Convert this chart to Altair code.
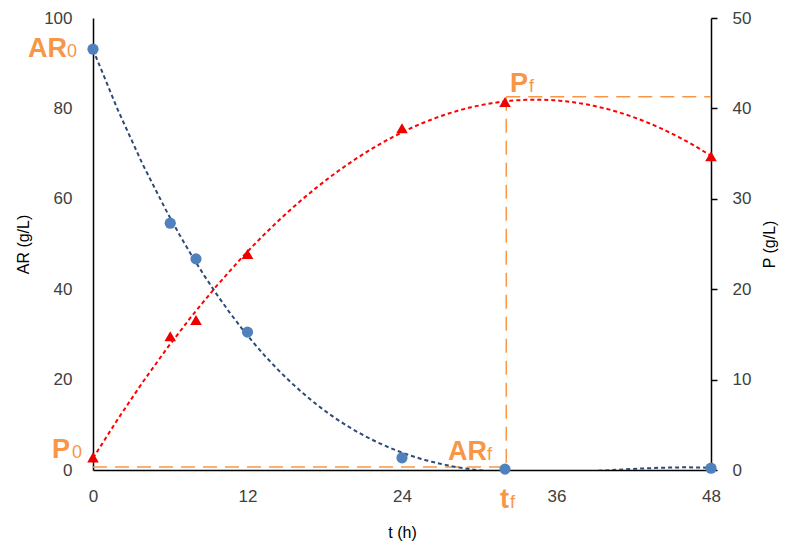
import altair as alt
import pandas as pd

# ---- data ----
t_h = [0, 6, 8, 12, 24, 32, 48]
ar_gl = [93.1, 54.6, 46.7, 30.5, 2.7, 0.2, 0.4]
p_gl = [1.4, 14.8, 16.6, 23.9, 37.8, 40.7, 34.7]

x_ticks = [0, 12, 24, 36, 48]
ar_ticks = [0, 20, 40, 60, 80, 100]
p_ticks = [0, 10, 20, 30, 40, 50]

tf_value = 32.1
ar_f_level = 0.66
p_f_level = 41.3

df = pd.DataFrame({"t": t_h, "AR": ar_gl, "P": p_gl})

W, H = 618, 452
ORANGE = "#F79646"
FONT = "Liberation Sans"
LBL = "#404040"

x_enc = alt.X(
    "t:Q",
    scale=alt.Scale(domain=[0, 48], nice=False, zero=False),
    axis=alt.Axis(values=x_ticks, title="t (h)", ticks=False, grid=False,
                  labelPadding=18, titlePadding=20, labelFlush=False,
                  domainColor="#000000", domainWidth=1.5),
)

ar_scale = alt.Scale(domain=[0, 100], nice=False, zero=True)
p_scale = alt.Scale(domain=[0, 50], nice=False, zero=True)

ar_axis = alt.Axis(values=ar_ticks, title="AR (g/L)", orient="left", ticks=False,
                   grid=False, labelPadding=21, titlePadding=12, labelFlush=False,
                   domainColor="#000000", domainWidth=1.5)
p_axis = alt.Axis(values=p_ticks, title="P (g/L)", orient="right", ticks=True,
                  tickSize=6, tickColor="#000000", tickWidth=1.5, grid=False,
                  labelPadding=15, titlePadding=27, titleAngle=270, labelFlush=False,
                  domainColor="#000000", domainWidth=1.5)

base = alt.Chart(df)

# ---- AR (left axis) ----
ar_trend = base.transform_regression(
    "t", "AR", method="poly", order=3, extent=[0, 48]
).mark_line(color="#2E4A74", strokeDash=[4, 3], strokeWidth=2, clip=True).encode(
    x=x_enc, y=alt.Y("AR:Q", scale=ar_scale, axis=ar_axis)
)
ar_pts = base.mark_point(shape="circle", filled=True, size=125, color="#4F81BD",
                         opacity=1).encode(
    x=x_enc, y=alt.Y("AR:Q", scale=ar_scale, axis=ar_axis)
)
ar_rule = alt.Chart(pd.DataFrame({"t": [0], "t2": [tf_value], "AR": [ar_f_level]})).mark_rule(
    color=ORANGE, strokeDash=[14, 8], strokeWidth=1.5
).encode(x=x_enc, x2="t2:Q", y=alt.Y("AR:Q", scale=ar_scale, axis=ar_axis))

left = alt.layer(ar_rule, ar_trend, ar_pts)

# ---- P (right axis) ----
p_trend = base.transform_regression(
    "t", "P", method="poly", order=2, extent=[0, 48]
).mark_line(color="#FF0000", strokeDash=[4, 3], strokeWidth=2, clip=True).encode(
    x=x_enc, y=alt.Y("P:Q", scale=p_scale, axis=p_axis)
)
p_pts = base.mark_point(shape="triangle-up", filled=True, size=135, color="#EE0000",
                        opacity=1).encode(
    x=x_enc, y=alt.Y("P:Q", scale=p_scale, axis=p_axis)
)
v_rule = alt.Chart(pd.DataFrame({"t": [tf_value], "P": [p_f_level], "P0": [0]})).mark_rule(
    color=ORANGE, strokeDash=[14, 8], strokeWidth=1.5
).encode(x=x_enc, y=alt.Y("P:Q", scale=p_scale, axis=p_axis), y2="P0:Q")
h_rule = alt.Chart(pd.DataFrame({"t": [tf_value], "t2": [48], "P": [p_f_level]})).mark_rule(
    color=ORANGE, strokeDash=[14, 8], strokeWidth=1.5
).encode(x=x_enc, x2="t2:Q", y=alt.Y("P:Q", scale=p_scale, axis=p_axis))

right = alt.layer(v_rule, h_rule, p_trend, p_pts)


# ---- orange annotations (main text + subscript) ----
def label(main, sub, px, py, sub_dx):
    one = alt.Data(values=[{"k": 1}])
    m = alt.Chart(one).mark_text(
        text=main, font=FONT, fontSize=27, fontWeight="bold", color=ORANGE,
        align="left", baseline="alphabetic"
    ).encode(x=alt.value(px), y=alt.value(py))
    s = alt.Chart(one).mark_text(
        text=sub, font=FONT, fontSize=18, fontWeight="normal", color=ORANGE,
        align="left", baseline="alphabetic"
    ).encode(x=alt.value(px + sub_dx), y=alt.value(py))
    return [m, s]


ann = []
ann += label("AR", "0", -65, 39, 39)
ann += label("P", "0", -41, 440, 20)
ann += label("AR", "f", 355, 442, 39)
ann += label("P", "f", 417, 74, 19)
ann += label("t", "f", 407, 490, 10)

chart = alt.layer(left, right, *ann).resolve_scale(y="independent").properties(
    width=W, height=H,
    autosize=alt.AutoSizeParams(type="none"),
    padding={"left": 93, "top": 18, "right": 74, "bottom": 77},
).configure_view(stroke=None).configure_axis(
    labelFont=FONT, labelFontSize=17, labelColor=LBL,
    titleFont=FONT, titleFontSize=16, titleColor="#000000", titleFontWeight="normal",
)

chart.save("out.html", embed_options={"renderer": "svg", "actions": False})
